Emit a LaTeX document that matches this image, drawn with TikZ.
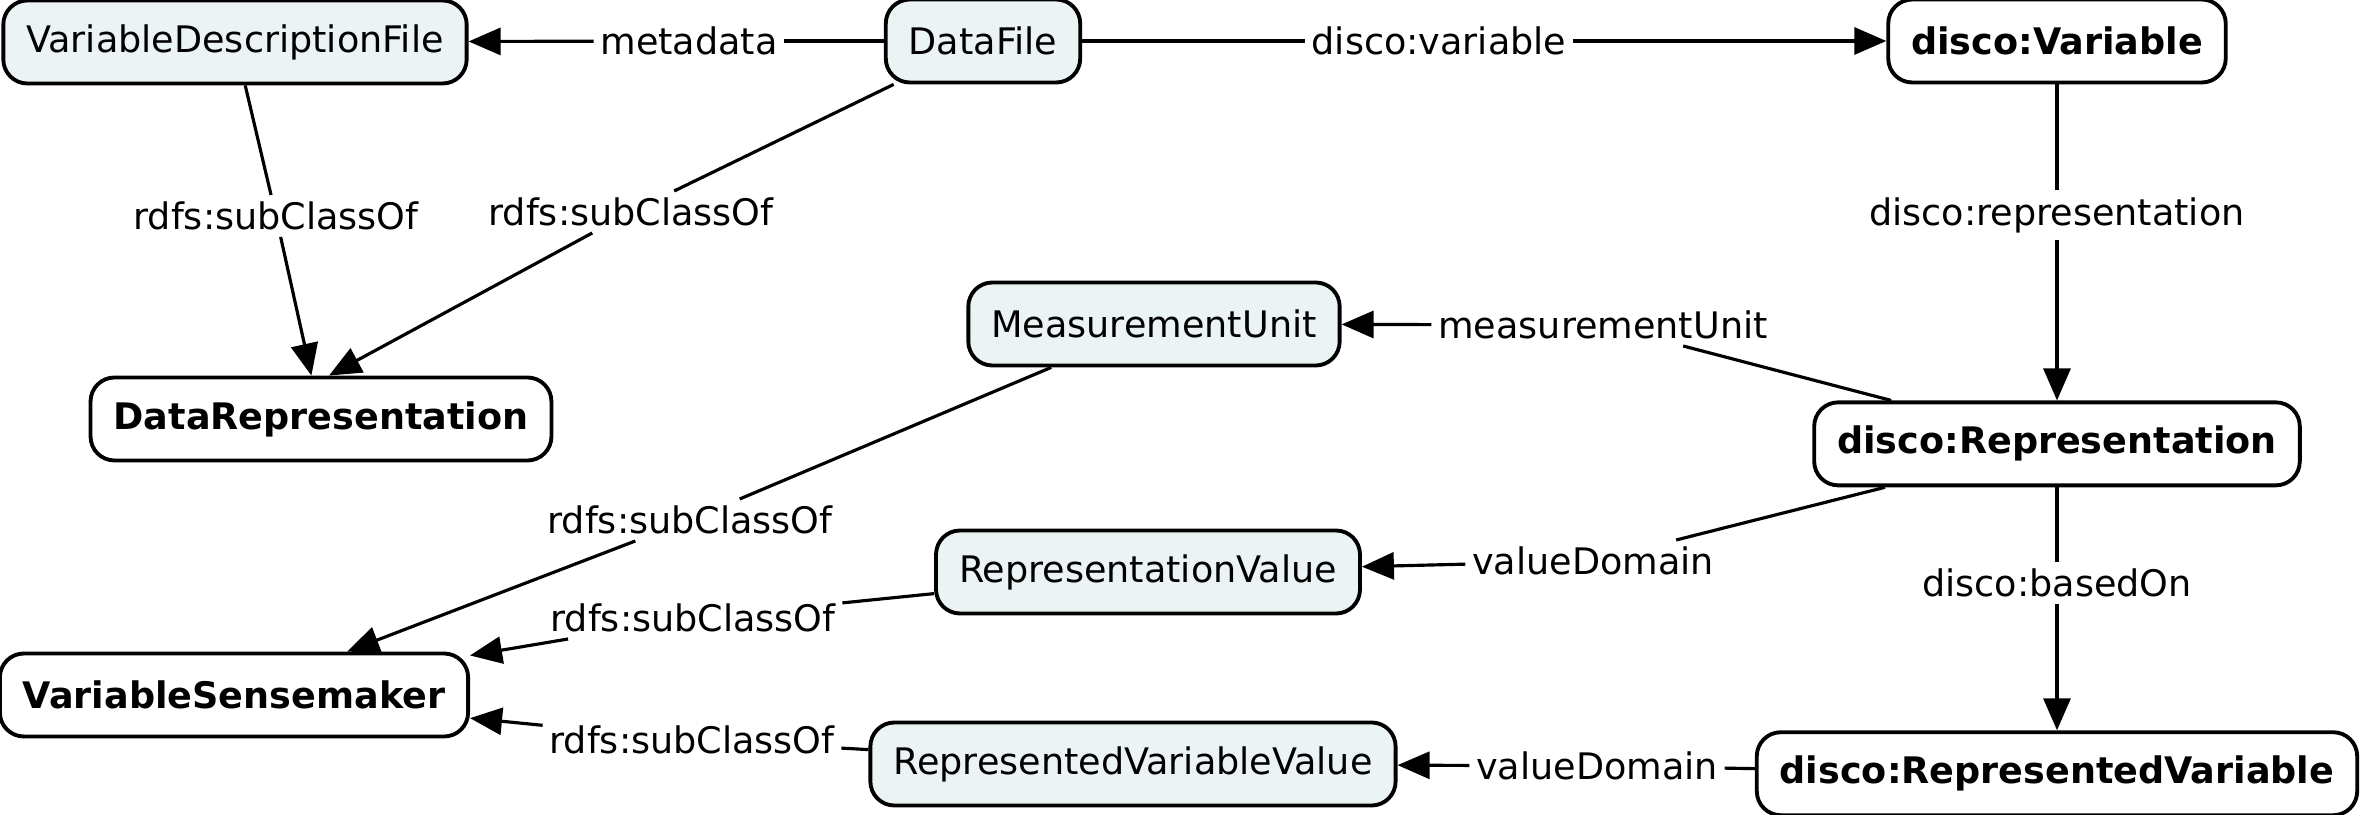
\documentclass[tikz,border=0pt]{standalone}
\usepackage{fontspec}
\setmainfont{DejaVu Sans}
\usetikzlibrary{arrows.meta, positioning}
\definecolor{cConcept}{HTML}{EBF3F4}

\begin{document}
\begin{tikzpicture}[
  box/.style={rectangle, rounded corners=2.4mm, draw, line width=1.1pt, minimum height=8.3mm, inner xsep=2.3mm, font=\fontsize{10.4}{12}\selectfont},
  concept/.style={box, fill=cConcept},
  keyconcept/.style={box, fill=white, font=\fontsize{10.4}{12}\selectfont\bfseries},
  link/.style={inner sep=1.5pt, font=\fontsize{10.4}{12}\selectfont},
  >={Triangle[length=3.2mm, width=2.7mm]}, line width=0.9pt
]
\useasboundingbox (0,0) rectangle (23.63,-8.15);

\node[concept] (VDF) at (2.35,-0.42) {VariableDescriptionFile};
\node[concept] (DF) at (9.83,-0.41) {DataFile};
\node[keyconcept] (Var) at (20.57,-0.41) {disco:Variable};
\node[keyconcept] (DR) at (3.21,-4.19) {DataRepresentation};
\node[concept] (MU) at (11.54,-3.24) {MeasurementUnit};
\node[keyconcept, below=3.16cm of Var] (Rep) {disco:Representation};
\node[concept] (RV) at (11.48,-5.72) {RepresentationValue};
\node[keyconcept] (VS) at (2.34,-6.95) {VariableSensemaker};
\node[concept] (RVV) at (11.33,-7.64) {RepresentedVariableValue};
\node[keyconcept, below=2.43cm of Rep] (RepVar) {disco:RepresentedVariable};

% linking phrases
\node[link] (lMeta) at (6.89,-0.41) {metadata};
\node[link] (lVar) at (14.39,-0.41) {disco:variable};
\node[link] (lSub1) at (2.76,-2.16) {rdfs:subClassOf};
\node[link] (lSub2) at (6.31,-2.12) {rdfs:subClassOf};
\node[link] (lRep) at (20.57,-2.15) {disco:representation};
\node[link] (lUnit) at (16.03,-3.25) {measurementUnit};
\node[link] (lSub3) at (6.90,-5.20) {rdfs:subClassOf};
\node[link] (lDom1) at (15.93,-5.61) {valueDomain};
\node[link] (lSub4) at (6.93,-6.18) {rdfs:subClassOf};
\node[link] (lBased) at (20.57,-5.83) {disco:basedOn};
\node[link] (lDom2) at (15.97,-7.66) {valueDomain};
\node[link] (lSub5) at (6.92,-7.40) {rdfs:subClassOf};

\draw (DF) -- (lMeta);
\draw[->] (lMeta) -- (VDF);
\draw (DF) -- (lVar);
\draw[->] (lVar) -- (Var);
\draw (VDF) -- (lSub1);
\draw[->] (lSub1) -- (DR);
\draw (DF) -- (lSub2);
\draw[->] (lSub2) -- ([xshift=0.08cm]DR.north);
\draw (Var) -- (lRep);
\draw[->] (lRep) -- (Rep);
\draw (Rep) -- (lUnit);
\draw[->] (lUnit) -- (MU);
\draw (MU) -- (lSub3);
\draw[->] (lSub3) -- (VS);
\draw (Rep) -- (lDom1);
\draw[->] (lDom1) -- (RV);
\draw (RV) -- (lSub4);
\draw[->] (lSub4) -- (VS);
\draw (Rep) -- (lBased);
\draw[->] (lBased) -- (RepVar);
\draw (RepVar) -- (lDom2);
\draw[->] (lDom2) -- (RVV);
\draw (RVV) -- (lSub5);
\draw[->] (lSub5) -- (VS);
\end{tikzpicture}
\end{document}
